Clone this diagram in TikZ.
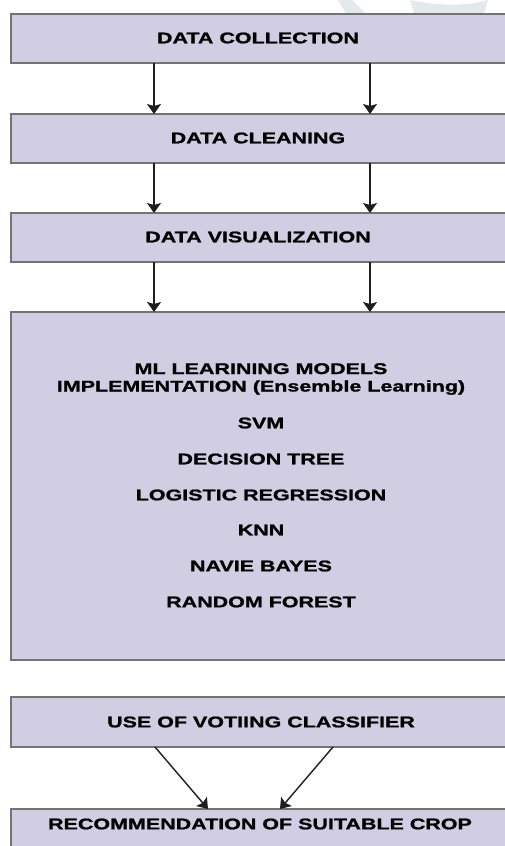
\documentclass[tikz,border=0pt]{standalone}
\usepackage{fontspec}
\setmainfont[FakeStretch=1.385, BoldFeatures={FakeBold=1.2}]{Liberation Sans}
\usetikzlibrary{arrows.meta}
\definecolor{boxfill}{HTML}{D1CEE3}
\definecolor{boxline}{HTML}{737373}
\definecolor{arrowcol}{HTML}{1E1E1E}
\definecolor{markcol}{HTML}{E4E9EC}
\tikzset{
  stage/.style={draw=boxline, fill=boxfill, line width=1.4pt},
  lbl/.style={font=\fontsize{15.5}{18}\selectfont\bfseries, text=black, inner sep=0pt, anchor=center},
  flow/.style={draw=arrowcol, line width=1.4pt, -{Stealth[width=14pt,length=10pt,inset=2pt]}},
}
\begin{document}
\begin{tikzpicture}[x=1pt, y=-1pt]
\useasboundingbox (0,0) rectangle (504,846);
% faint mark in the upper right corner
\fill[markcol] (338,0) -- (352,0) -- (366,14) -- (346,14) -- cycle;
\fill[markcol] (410,0) .. controls (430,4) and (460,8) .. (488,0) -- (484,14) -- (414,14) -- cycle;

% stage boxes
\draw[stage] (11,14) rectangle (512,63);
\draw[stage] (11,114) rectangle (512,163);
\draw[stage] (11,213) rectangle (512,262);
\draw[stage] (11,312) rectangle (512,660);
\draw[stage] (11,697) rectangle (512,747);
\draw[stage] (11,809) rectangle (512,860);

% labels
\node[lbl] (collect) at (258,38) {DATA COLLECTION};
\node[lbl] (clean) at (258,138) {DATA CLEANING};
\node[lbl] (visual) at (258,237) {DATA VISUALIZATION};
\node[lbl, align=center, font=\fontsize{15.5}{17.5}\selectfont\bfseries] (ml) at (261,379) {ML LEARINING MODELS\\IMPLEMENTATION (Ensemble Learning)};
\node[lbl] (svm) at (261,423) {SVM};
\node[lbl] (dtree) at (261,459) {DECISION TREE};
\node[lbl] (logreg) at (261,495) {LOGISTIC REGRESSION};
\node[lbl] (knn) at (261,530) {KNN};
\node[lbl] (nb) at (261,566) {NAVIE BAYES};
\node[lbl] (rf) at (261,602) {RANDOM FOREST};
\node[lbl] (vote) at (261,722) {USE OF VOTIING CLASSIFIER};
\node[lbl] (rec) at (260,824) {RECOMMENDATION OF SUITABLE CROP};

% connector end points on the box edges
\coordinate (a1) at (154,63);  \coordinate (b1) at (154,114);
\coordinate (a2) at (370,63);  \coordinate (b2) at (370,114);
\coordinate (a3) at (154,163); \coordinate (b3) at (154,213);
\coordinate (a4) at (370,163); \coordinate (b4) at (370,213);
\coordinate (a5) at (154,262); \coordinate (b5) at (154,312);
\coordinate (a6) at (370,262); \coordinate (b6) at (370,312);
\coordinate (a7) at (155,747); \coordinate (b7) at (208,809);
\coordinate (a8) at (333,747); \coordinate (b8) at (280,809);

\draw[flow] (a1) -- (b1);
\draw[flow] (a2) -- (b2);
\draw[flow] (a3) -- (b3);
\draw[flow] (a4) -- (b4);
\draw[flow] (a5) -- (b5);
\draw[flow] (a6) -- (b6);
\draw[flow] (a7) -- (b7);
\draw[flow] (a8) -- (b8);
\end{tikzpicture}
\end{document}
